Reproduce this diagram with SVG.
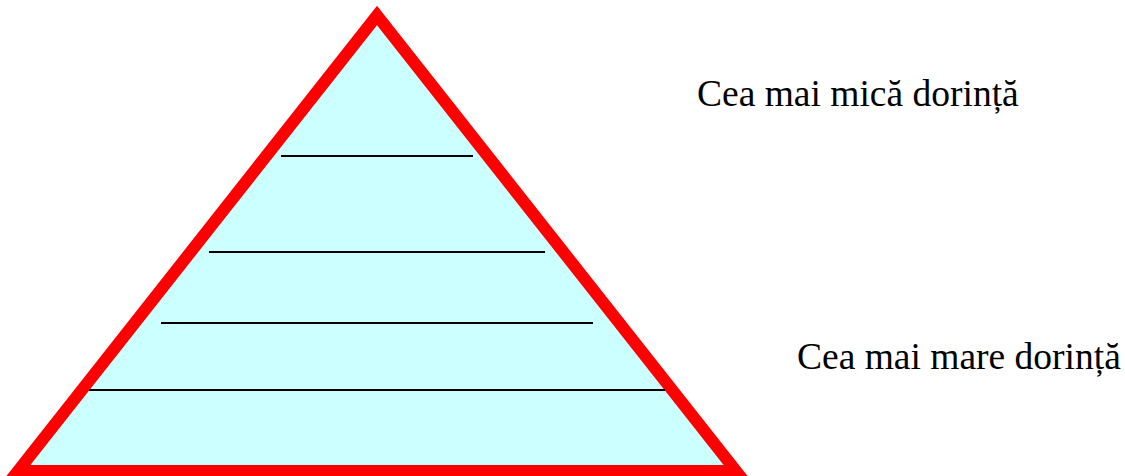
<svg xmlns="http://www.w3.org/2000/svg" width="1125" height="476" viewBox="0 0 1125 476">
<style>
.tri{fill:#CCFFFF;stroke:#FF0000;stroke-width:12;stroke-linejoin:miter;stroke-miterlimit:10}
.ln{stroke:#000;stroke-width:2}
.lbl{font-family:"Liberation Serif","Times New Roman",serif;font-size:37.5px;fill:#000}
</style>
<g id="pyramid">
<polygon class="tri" points="377,15.5 18,471 736,471"/>
</g>
<g id="levels">
<line class="ln" x1="281" y1="156" x2="473" y2="156"/>
<line class="ln" x1="209" y1="252" x2="545" y2="252"/>
<line class="ln" x1="161" y1="323" x2="593" y2="323"/>
<line class="ln" x1="89" y1="390" x2="665" y2="390"/>
</g>
<g id="label-top"><text class="lbl" x="697" y="106">Cea mai mică dorință</text></g>
<g id="label-bottom"><text class="lbl" x="797" y="369">Cea mai mare dorință</text></g>
</svg>
